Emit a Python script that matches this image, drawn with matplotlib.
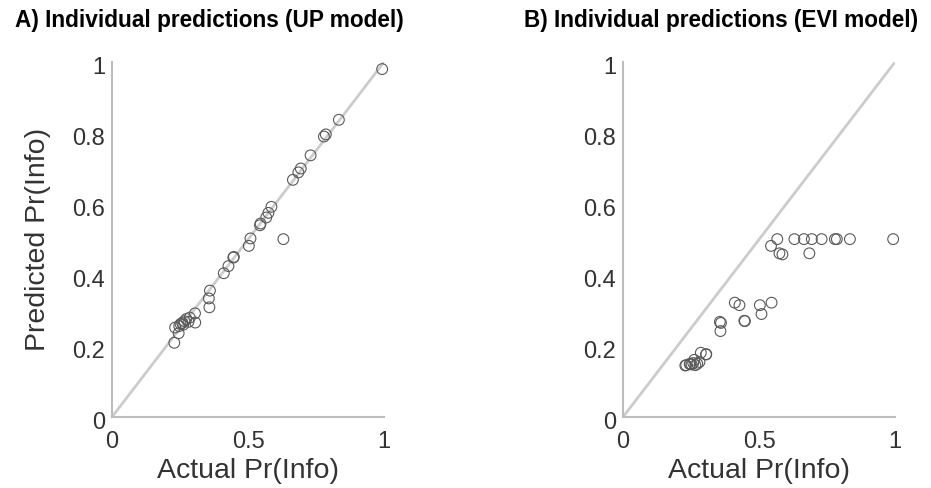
import numpy as np
import matplotlib.pyplot as plt
import matplotlib.transforms as mtransforms

plt.rcParams['font.family'] = ['Liberation Sans', 'DejaVu Sans']

# actual proportion of info choices per participant (shared by both panels)
actual = [0.229, 0.232, 0.245, 0.247, 0.252, 0.258, 0.262, 0.266, 0.273, 0.281,
          0.286, 0.305, 0.306, 0.356, 0.358, 0.360, 0.411, 0.428, 0.446, 0.448,
          0.503, 0.509, 0.546, 0.544, 0.567, 0.575, 0.586, 0.630, 0.665, 0.685,
          0.694, 0.730, 0.779, 0.786, 0.834, 0.993]

pred_up = [0.209, 0.252, 0.236, 0.256, 0.262, 0.265, 0.260, 0.270, 0.276, 0.268,
           0.280, 0.292, 0.266, 0.334, 0.309, 0.356, 0.405, 0.425, 0.449, 0.451,
           0.482, 0.503, 0.545, 0.540, 0.562, 0.575, 0.592, 0.501, 0.668, 0.689,
           0.700, 0.737, 0.790, 0.796, 0.837, 0.980]

pred_evi = [0.145, 0.146, 0.149, 0.150, 0.148, 0.152, 0.161, 0.146, 0.150, 0.155,
            0.181, 0.176, 0.177, 0.268, 0.242, 0.265, 0.322, 0.315, 0.271, 0.270,
            0.315, 0.290, 0.322, 0.482, 0.501, 0.461, 0.458, 0.501, 0.501, 0.461,
            0.501, 0.501, 0.501, 0.501, 0.501, 0.501]

titles = ["A) Individual predictions (UP model)", "B) Individual predictions (EVI model)"]
ticks = [0, 0.5, 1]
ytick_vals = [0, 0.2, 0.4, 0.6, 0.8, 1]
tick_labels_y = ["0", "0.2", "0.4", "0.6", "0.8", "1"]
tick_labels_x = ["0", "0.5", "1"]

fig = plt.figure(figsize=(9.31, 4.88), dpi=100)
ax_left = fig.add_axes([0.1203, 0.1455, 0.2922, 0.7275])
ax_right = fig.add_axes([0.6692, 0.1455, 0.2922, 0.7275])

spine_col = '#bdbdbd'
txt_col = '#333333'
# y tick labels sit a little below their tick in the original
shift = mtransforms.ScaledTranslation(0, -4 / 100, fig.dpi_scale_trans)

for ax, preds in [(ax_left, pred_up), (ax_right, pred_evi)]:
    ax.plot([0, 1], [0, 1], color='#cccccc', lw=2, zorder=1)
    ax.scatter(actual, preds, s=60, facecolors='none', edgecolors='#5a5a5a',
               linewidths=0.8, zorder=2, clip_on=False)
    ax.set_xlim(0, 1)
    ax.set_ylim(0, 1)
    ax.set_xticks(ticks)
    ax.set_xticklabels(tick_labels_x)
    ax.set_yticks(ytick_vals)
    ax.set_yticklabels(tick_labels_y)
    ax.tick_params(length=0, labelsize=17, colors=txt_col)
    ax.tick_params(axis='x', pad=10)
    ax.tick_params(axis='y', pad=5)
    for lab in ax.get_yticklabels():
        lab.set_transform(lab.get_transform() + shift)
    for s in ['top', 'right']:
        ax.spines[s].set_visible(False)
    for s in ['left', 'bottom']:
        ax.spines[s].set_color(spine_col)
        ax.spines[s].set_linewidth(1.5)
    ax.set_xlabel("Actual Pr(Info)", fontsize=20.5, color=txt_col, labelpad=4)

ax_left.set_ylabel("Predicted Pr(Info)", fontsize=20.5, color=txt_col, labelpad=15)

fig.text(0.016, 0.958, titles[0], fontsize=16.3, fontweight='bold', va='center')
fig.text(0.563, 0.958, titles[1], fontsize=16.3, fontweight='bold', va='center')

fig.savefig("out.png", dpi=100)
